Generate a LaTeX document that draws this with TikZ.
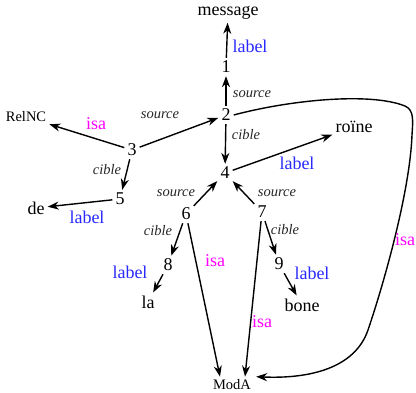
\documentclass[tikz,border=0pt]{standalone}
\usepackage{fontspec}
\setmainfont{Liberation Serif}
\usetikzlibrary{arrows.meta}
\definecolor{lblue}{RGB}{40,40,255}
\definecolor{lmag}{RGB}{255,0,255}
\begin{document}
\begin{tikzpicture}[x=1pt,y=-1pt,
 nd/.style={font=\fontsize{18}{20}\selectfont, inner sep=3pt},
 sm/.style={font=\fontsize{14.5}{16}\selectfont, inner sep=3pt},
 lb/.style={font=\fontsize{18}{20}\selectfont, text=lblue, inner sep=0pt},
 is/.style={font=\fontsize{18}{20}\selectfont, text=lmag, inner sep=0pt},
 rl/.style={font=\fontsize{14.5}{16}\selectfont\itshape, text=black!85, inner sep=0pt},
 arr/.style={-{Stealth[length=11pt,width=8pt,inset=3.5pt]}, line width=1.4pt}]
\useasboundingbox (0,0) rectangle (416,392);
% nodes
\node[nd] (msg) at (228,13) {message};
\node[nd] (n1) at (226,67) {1};
\node[nd] (n2) at (226,115) {2};
\node[sm] (rel) at (26,117) {RelNC};
\node[nd] (n3) at (132,150) {3};
\node[nd] (n4) at (225,173) {4};
\node[nd] (roi) at (354,127) {roïne};
\node[nd] (n5) at (120,199) {5};
\node[nd] (de) at (36,208) {de};
\node[nd] (n6) at (186,214) {6};
\node[nd] (n7) at (262,212) {7};
\node[nd] (n8) at (168,265) {8};
\node[nd] (n9) at (279,264) {9};
\node[nd] (la) at (148,302) {la};
\node[nd] (bone) at (302,305) {bone};
\node[sm] (moda) at (232,385) {ModA};
% connectors
\draw[arr] (n1) -- (msg);
\draw[arr] (n2) -- (n1);
\draw[arr] (n3) -- (n2);
\draw[arr] (n3) -- (rel);
\draw[arr] (n2) -- (n4);
\draw[arr] (n4) -- (roi);
\draw[arr] (n3) -- (n5);
\draw[arr] (n5) -- (de);
\draw[arr] (n6) -- (n4);
\draw[arr] (n7) -- (n4);
\draw[arr] (n6) -- (n8);
\draw[arr] (n7) -- (n9);
\draw[arr] (n8) -- (la);
\draw[arr] (n9) -- (bone);
\draw[arr] (n6) -- ([xshift=-12pt]moda.north);
\draw[arr] (n7) -- ([xshift=13pt]moda.north);
\draw[arr] (n2.east) .. controls (290,100) and (370,92) .. (405,106)
  .. controls (414,110) and (413,120) .. (412,135)
  .. controls (410,190) and (385,280) .. (368,330)
  .. controls (355,368) and (310,379) .. ([xshift=2pt]moda.north east);
% labels
\node[lb] (l1) at (250,46) {label};
\node[rl] (s1) at (252,94) {source};
\node[rl] (s2) at (160,115) {source};
\node[is] (i1) at (96,124) {isa};
\node[rl] (c1) at (246,135) {cible};
\node[lb] (l2) at (297,163) {label};
\node[rl] (c2) at (107,170) {cible};
\node[rl] (s3) at (176,193) {source};
\node[rl] (s4) at (277,193) {source};
\node[lb] (l3) at (87,217) {label};
\node[rl] (c3) at (158,231) {cible};
\node[rl] (c4) at (285,230) {cible};
\node[is] (i2) at (215,261) {isa};
\node[lb] (l4) at (130,272) {label};
\node[lb] (l5) at (312,273) {label};
\node[is] (i3) at (262,322) {isa};
\node[is] (i4) at (405,240) {isa};
\end{tikzpicture}
\end{document}
